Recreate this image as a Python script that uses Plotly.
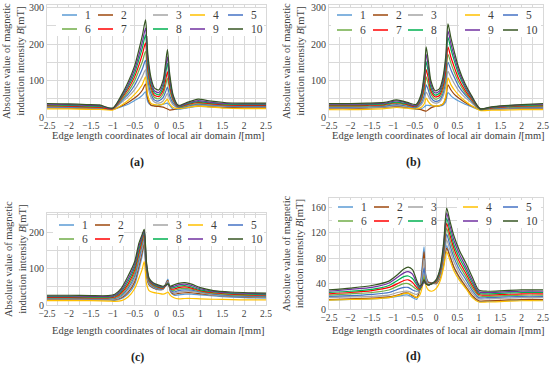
import plotly.graph_objects as go

names = [str(i) for i in range(1, 11)]
colors = ['#5B9BD5', '#9E480E', '#A5A5A5', '#FFC000', '#4472C4',
          '#70AD47', '#FF0000', '#00B050', '#7030A0', '#375623']

# ---------------- panel (a) ----------------
xa = [-2.5, -2.0, -1.6, -1.3, -1.0, -0.8, -0.65, -0.5, -0.4, -0.32, -0.25, -0.2, -0.13, -0.05,
      0.05, 0.15, 0.21, 0.25, 0.3, 0.38, 0.5, 0.7, 0.95, 1.2, 1.6, 2.0, 2.5]
a1 = [25, 24, 23, 22, 21, 28, 35, 45, 52, 60, 69, 42, 32, 31, 32, 35, 37, 38, 32, 22, 21, 25, 29, 28, 26, 25, 25]
a2 = [26, 25, 24, 23, 21, 30, 40, 52, 62, 74, 90, 50, 33, 30, 29, 27, 24, 22, 19, 20, 24, 27, 31, 29, 27, 26, 26]
a3 = [27, 26, 25, 24, 22, 40, 55, 75, 94, 112, 130, 87, 55, 41, 38, 44, 56, 65, 49, 33, 25, 28, 33, 31, 29, 28, 28]
a4 = [22, 22, 21, 21, 19, 32, 45, 62, 76, 90, 110, 60, 38, 34, 33, 36, 44, 49, 36, 26, 23, 26, 30, 28, 24, 23, 23]
a5 = [28, 27, 26, 25, 22, 44, 62, 87, 111, 133, 155, 103, 65, 47, 44, 53, 70, 82, 59, 38, 26, 30, 35, 33, 30, 29, 29]
a6 = [30, 29, 27, 26, 23, 47, 69, 99, 128, 153, 180, 119, 75, 54, 50, 63, 88, 106, 74, 44, 27, 32, 37, 35, 32, 31, 31]
a7 = [31, 30, 28, 27, 23, 51, 76, 110, 143, 173, 203, 134, 84, 60, 56, 72, 102, 124, 85, 48, 28, 34, 40, 37, 33, 32, 32]
a8 = [33, 32, 30, 29, 24, 54, 82, 120, 158, 191, 225, 148, 92, 66, 61, 81, 120, 148, 98, 52, 29, 36, 42, 39, 35, 34, 34]
a9 = [35, 34, 32, 31, 24, 57, 88, 130, 170, 207, 244, 161, 101, 72, 67, 90, 134, 165, 108, 56, 30, 38, 45, 41, 37, 36, 36]
a10 = [37, 36, 34, 33, 24, 60, 95, 140, 185, 225, 266, 175, 110, 80, 74, 100, 150, 185, 120, 60, 32, 40, 49, 44, 39, 38, 38]

# ---------------- panel (b) ----------------
xb = [-2.5, -2.0, -1.6, -1.2, -0.92, -0.67, -0.47, -0.35, -0.27, -0.23, -0.18, -0.12, -0.02, 0.08,
      0.16, 0.23, 0.28, 0.35, 0.43, 0.53, 0.68, 0.83, 1.03, 1.3, 1.6, 2.0, 2.5]
b1 = [24, 24, 25, 27, 28, 25, 21, 22, 28, 32, 32, 31, 30, 30, 32, 42, 67, 58, 51, 44, 35, 28, 20, 21, 22, 23, 24]
b2 = [24, 24, 25, 27, 30, 26, 23, 20, 17, 16, 20, 25, 29, 31, 35, 52, 88, 74, 62, 52, 40, 30, 21, 22, 23, 24, 24]
b3 = [25, 25, 26, 28, 31, 28, 25, 33, 50, 68, 58, 45, 38, 41, 55, 84, 125, 108, 91, 72, 53, 39, 20, 22, 24, 25, 25]
b4 = [20, 20, 21, 23, 26, 24, 22, 26, 37, 52, 42, 34, 30, 31, 36, 58, 107, 88, 74, 60, 44, 31, 18, 19, 19, 20, 20]
b5 = [27, 27, 28, 30, 34, 30, 26, 38, 62, 88, 74, 53, 43, 46, 63, 100, 150, 129, 108, 84, 61, 43, 21, 23, 25, 26, 27]
b6 = [29, 29, 30, 32, 37, 32, 28, 44, 76, 110, 90, 63, 49, 53, 72, 114, 172, 147, 122, 95, 67, 46, 21, 24, 27, 28, 29]
b7 = [31, 31, 32, 34, 39, 34, 29, 48, 88, 130, 106, 72, 55, 59, 81, 128, 192, 163, 136, 105, 73, 49, 22, 25, 28, 30, 31]
b8 = [33, 33, 34, 36, 41, 36, 30, 53, 101, 152, 123, 81, 60, 65, 90, 144, 218, 185, 153, 117, 80, 53, 22, 26, 29, 31, 33]
b9 = [35, 35, 36, 38, 44, 38, 31, 57, 112, 172, 138, 90, 66, 71, 98, 156, 236, 200, 165, 126, 85, 56, 23, 27, 30, 33, 35]
b10 = [37, 37, 38, 40, 47, 40, 34, 61, 124, 192, 154, 100, 72, 77, 107, 169, 255, 216, 178, 135, 91, 59, 23, 28, 31, 34, 37]

# ---------------- panel (c) ----------------
xc = [-2.5, -2.0, -1.5, -1.1, -0.95, -0.8, -0.65, -0.5, -0.4, -0.33, -0.28, -0.23, -0.17, -0.08,
      0.05, 0.15, 0.22, 0.26, 0.32, 0.4, 0.5, 0.65, 0.8, 1.0, 1.3, 1.7, 2.1, 2.5]
c1 = [15, 15, 14, 14, 13, 18, 30, 56, 98, 135, 165, 80, 55, 47, 42, 45, 62, 72, 36, 27, 28, 30, 30, 28, 25, 22, 20, 19]
c2 = [16, 16, 15, 15, 15, 20, 35, 64, 108, 145, 172, 85, 57, 48, 43, 44, 60, 68, 38, 30, 32, 34, 34, 31, 27, 24, 22, 21]
c3 = [17, 17, 16, 16, 16, 23, 40, 72, 118, 155, 178, 90, 60, 50, 44, 44, 58, 65, 40, 33, 36, 38, 38, 34, 28, 25, 23, 22]
c4 = [12, 12, 12, 11, 10, 12, 22, 45, 75, 98, 120, 60, 40, 35, 32, 30, 33, 36, 26, 20, 17, 18, 18, 17, 16, 15, 14, 14]
c5 = [18, 18, 17, 17, 18, 26, 46, 80, 128, 165, 186, 95, 63, 52, 45, 45, 56, 63, 42, 36, 40, 42, 41, 36, 30, 26, 24, 23]
c6 = [20, 20, 19, 19, 20, 30, 52, 88, 138, 172, 192, 100, 66, 54, 47, 46, 55, 61, 44, 40, 44, 46, 44, 38, 32, 28, 26, 25]
c7 = [21, 21, 20, 20, 22, 34, 58, 96, 146, 178, 197, 105, 68, 56, 49, 47, 55, 60, 46, 44, 48, 50, 47, 40, 34, 30, 28, 27]
c8 = [23, 23, 22, 22, 25, 38, 65, 104, 155, 185, 202, 110, 70, 58, 51, 49, 55, 59, 48, 48, 52, 54, 50, 42, 36, 32, 30, 29]
c9 = [25, 25, 24, 24, 27, 42, 72, 112, 163, 190, 206, 115, 72, 60, 53, 50, 55, 58, 50, 52, 56, 58, 54, 45, 38, 34, 32, 31]
c10 = [27, 27, 26, 26, 30, 47, 80, 120, 172, 195, 210, 120, 75, 62, 55, 52, 56, 58, 52, 56, 60, 62, 58, 48, 40, 36, 34, 33]

# ---------------- panel (d) ----------------
xd = [-2.5, -2.0, -1.5, -1.1, -0.9, -0.75, -0.65, -0.55, -0.45, -0.38, -0.32, -0.28, -0.24, -0.18,
      -0.1, 0.0, 0.1, 0.18, 0.25, 0.32, 0.42, 0.55, 0.7, 0.85, 1.0, 1.2, 1.6, 2.0, 2.5]
d1 = [14, 15, 16, 18, 20, 22, 22, 18, 15, 32, 70, 98, 55, 43, 41, 40, 49, 70, 100, 85, 65, 48, 33, 19, 12, 12, 13, 14, 14]
d2 = [15, 16, 17, 19, 22, 25, 25, 21, 18, 30, 62, 90, 52, 42, 41, 40, 50, 72, 96, 84, 66, 50, 35, 21, 13, 13, 14, 15, 15]
d3 = [18, 19, 20, 22, 26, 28, 28, 25, 23, 30, 55, 80, 50, 40, 40, 41, 52, 78, 109, 94, 74, 56, 40, 25, 16, 16, 17, 18, 18]
d4 = [14, 15, 16, 18, 21, 24, 25, 22, 18, 22, 35, 55, 38, 30, 28, 32, 45, 66, 90, 78, 60, 45, 32, 18, 11, 11, 12, 13, 13]
d5 = [20, 21, 23, 26, 31, 34, 34, 30, 28, 30, 45, 65, 45, 38, 40, 42, 55, 84, 118, 102, 81, 62, 46, 29, 18, 18, 19, 20, 20]
d6 = [22, 24, 26, 30, 36, 40, 40, 36, 31, 30, 40, 50, 42, 38, 40, 42, 57, 88, 127, 110, 88, 68, 51, 33, 21, 20, 21, 22, 22]
d7 = [24, 26, 29, 34, 40, 45, 46, 42, 34, 31, 38, 46, 41, 38, 40, 43, 59, 92, 135, 118, 95, 74, 56, 37, 23, 22, 23, 24, 24]
d8 = [26, 28, 31, 37, 45, 51, 52, 48, 38, 32, 38, 44, 40, 38, 40, 44, 61, 96, 143, 125, 101, 80, 61, 41, 25, 24, 25, 26, 26]
d9 = [28, 31, 34, 41, 50, 57, 59, 55, 41, 34, 38, 44, 40, 38, 40, 45, 63, 100, 151, 133, 108, 86, 66, 45, 27, 26, 27, 28, 28]
d10 = [30, 33, 37, 44, 54, 63, 66, 62, 45, 36, 40, 46, 40, 38, 40, 46, 65, 105, 159, 140, 115, 92, 72, 50, 30, 28, 29, 30, 30]

y_ticks_abc = [0, 100, 200, 300]
y_ticks_d = [0, 40, 80, 120, 160]
x_ticks = [-2.5, -2, -1.5, -1, -0.5, 0, 0.5, 1, 1.5, 2, 2.5]
x_ticktext = ['\u22122.5', '\u22122', '\u22121.5', '\u22121', '\u22120.5', '0', '0.5', '1', '1.5', '2', '2.5']
panel_labels = ['(a)', '(b)', '(c)', '(d)']
x_title = 'Edge length coordinates of local air domain <i>l</i>[mm]'
y_title = 'Absolute value of magnetic<br>induction intensity <i>B</i>[mT]'

panels = [
    (xa, [a1, a2, a3, a4, a5, a6, a7, a8, a9, a10]),
    (xb, [b1, b2, b3, b4, b5, b6, b7, b8, b9, b10]),
    (xc, [c1, c2, c3, c4, c5, c6, c7, c8, c9, c10]),
    (xd, [d1, d2, d3, d4, d5, d6, d7, d8, d9, d10]),
]

W, H = 550, 366
def px(v):
    return v / W
def py(v):
    return 1 - v / H

# pixel boxes: left, right, top, bottom ; y range ; y ticks ; minor grid step
boxes = [
    dict(l=47, r=266, t=5, b=117, yr=[0, 307], mn=50, tv=y_ticks_abc, xt=135.5, yt=14),
    dict(l=329, r=543, t=5, b=117, yr=[0, 307], mn=50, tv=y_ticks_abc, xt=135.5, yt=294),
    dict(l=47, r=266, t=213, b=305, yr=[0, 255], mn=50, tv=y_ticks_abc, xt=330.5, yt=15),
    dict(l=329, r=543, t=198, b=309, yr=[0, 175], mn=20, tv=y_ticks_d, xt=330.5, yt=293),
]

FONT = '"Liberation Serif", "Times New Roman", serif'
TXT = '#404040'
GRID = '#d9d9d9'

fig = go.Figure()
layout = dict(width=W, height=H, margin=dict(l=0, r=0, t=0, b=0, autoexpand=False),
              paper_bgcolor='white', plot_bgcolor='white', showlegend=False,
              font=dict(family=FONT, size=10, color=TXT))
annotations = []
shapes = []

for i, ((xs, series), bx) in enumerate(zip(panels, boxes)):
    k = '' if i == 0 else str(i + 1)
    for j, ys in enumerate(series):
        fig.add_trace(go.Scatter(x=xs, y=ys, mode='lines', name=names[j],
                                 line=dict(color=colors[j], width=1.2, shape='spline', smoothing=0.7),
                                 xaxis='x' + k, yaxis='y' + k, showlegend=False))
    layout['xaxis' + k] = dict(domain=[px(bx['l']), px(bx['r'])], anchor='y' + k,
                               range=[-2.5, 2.5], tickvals=x_ticks, ticktext=x_ticktext,
                               showgrid=True, gridcolor=GRID, gridwidth=1, automargin=False,
                               minor=dict(dtick=0.25, tick0=0, showgrid=True, gridcolor=GRID),
                               showline=True, linecolor=GRID, mirror=True, zeroline=False,
                               ticks='', ticklen=0, tickfont=dict(family=FONT, size=9.5, color=TXT))
    layout['yaxis' + k] = dict(domain=[py(bx['b']), py(bx['t'])], anchor='x' + k,
                               range=bx['yr'], tickvals=bx['tv'], automargin=False,
                               showgrid=True, gridcolor=GRID, gridwidth=1,
                               minor=dict(dtick=bx['mn'], tick0=0, showgrid=True, gridcolor=GRID),
                               showline=True, linecolor=GRID, mirror=True, zeroline=False,
                               ticks='', ticklen=0, tickfont=dict(family=FONT, size=10, color=TXT))
    # axis titles
    annotations.append(dict(text=x_title, x=px((bx['l'] + bx['r']) / 2 + 2), y=py(bx['xt']),
                            xref='paper', yref='paper', showarrow=False, xanchor='center', yanchor='middle',
                            font=dict(family=FONT, size=10.5, color=TXT)))
    annotations.append(dict(text=y_title, x=px(bx['yt']), y=py((bx['t'] + bx['b']) / 2),
                            xref='paper', yref='paper', showarrow=False, textangle=-90,
                            xanchor='center', yanchor='middle',
                            font=dict(family=FONT, size=10.5, color=TXT)))

# panel labels
for lab, (cx, cy) in zip(panel_labels, [(137, 162), (413, 162), (137, 357), (413, 356)]):
    annotations.append(dict(text='<b>' + lab + '</b>', x=px(cx), y=py(cy), xref='paper', yref='paper',
                            showarrow=False, xanchor='center', yanchor='middle',
                            font=dict(family=FONT, size=12, color='#222222')))

# manual legends: column line starts (px), row ys, and white boxes
legend_specs = [
    dict(cols=[62, 98, 153, 190, 228], rows=[15, 29], boxes=[(56, 130), (147, 264)]),
    dict(cols=[337, 373, 408, 465, 503], rows=[15, 30], boxes=[(331, 440), (459, 541)]),
    dict(cols=[59, 95, 153, 188, 228], rows=[225, 239], boxes=[(53, 124), (147, 264)]),
    dict(cols=[338, 374, 408, 463, 503], rows=[207, 221], boxes=[(332, 436), (457, 541)]),
]
for spec in legend_specs:
    r0, r1 = spec['rows']
    for (bl, br) in spec['boxes']:
        shapes.append(dict(type='rect', xref='paper', yref='paper', x0=px(bl), x1=px(br),
                           y0=py(r1 + 7), y1=py(r0 - 7), fillcolor='white', line=dict(width=0),
                           layer='above'))
    for c, x0 in enumerate(spec['cols']):
        for r, yy in enumerate(spec['rows']):
            idx = c + 5 * r
            shapes.append(dict(type='line', xref='paper', yref='paper', x0=px(x0), x1=px(x0 + 15),
                               y0=py(yy), y1=py(yy), line=dict(color=colors[idx], width=1.5),
                               layer='above'))
            annotations.append(dict(text=names[idx], x=px(x0 + 21), y=py(yy), xref='paper', yref='paper',
                                    showarrow=False, xanchor='left', yanchor='middle',
                                    font=dict(family=FONT, size=11.5, color=TXT)))

layout['annotations'] = annotations
layout['shapes'] = shapes
fig.update_layout(**layout)
fig.write_html('out.html', config={'displayModeBar': False},
               post_script="document.body.style.margin='0px';")
